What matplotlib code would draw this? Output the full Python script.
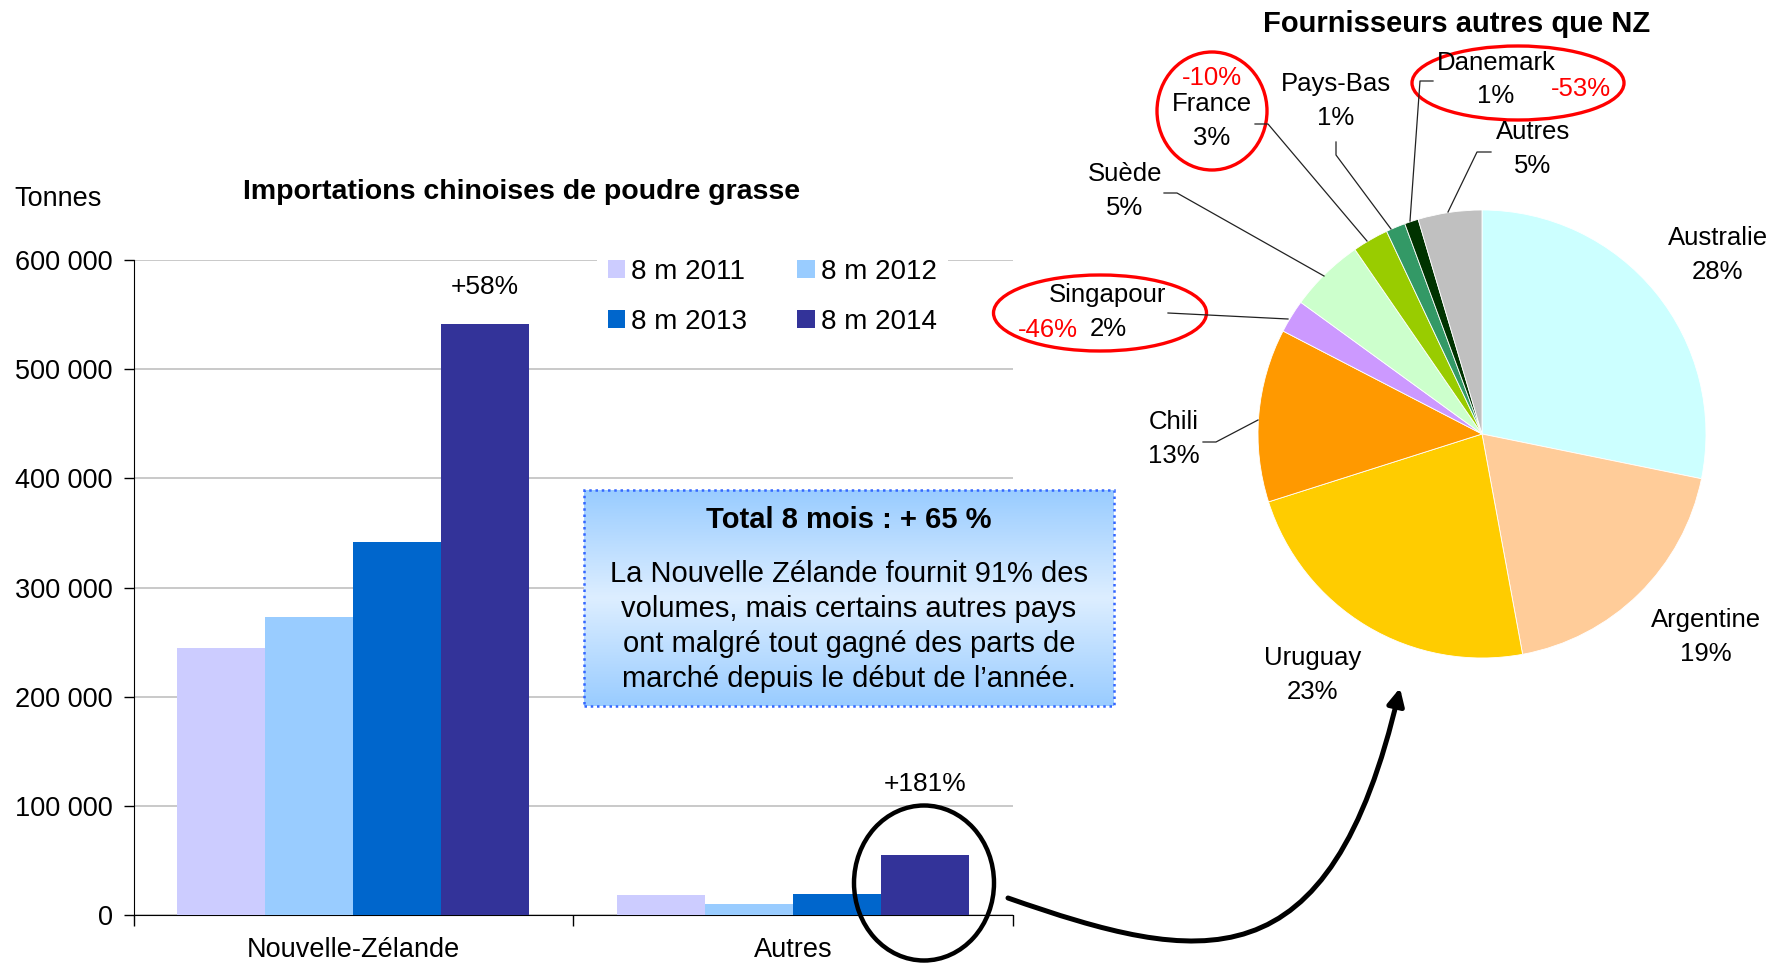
import matplotlib
matplotlib.use('Agg')
import matplotlib.pyplot as plt
import numpy as np
from matplotlib.patches import Ellipse, Rectangle, FancyArrowPatch
from matplotlib.path import Path
from matplotlib.lines import Line2D
from matplotlib.ticker import FuncFormatter
from matplotlib.colors import to_rgb

plt.rcParams['font.family'] = ['Liberation Sans', 'DejaVu Sans']

W, H = 1774, 966

# donnees barres
pays = ['Nouvelle-Zélande', 'Autres']
periodes = ['8 m 2011', '8 m 2012', '8 m 2013', '8 m 2014']
vol_2011 = [245000, 18500]
vol_2012 = [273000, 10000]
vol_2013 = [342000, 19500]
vol_2014 = [541000, 55000]
hausse = ['+58%', '+181%']
coul_barres = ['#ccccff', '#99ccff', '#0066cc', '#333399']

# donnees camembert (sens horaire depuis midi)
fournisseurs = ['Australie', 'Argentine', 'Uruguay', 'Chili', 'Singapour',
                'Suède', 'France', 'Pays-Bas', 'Danemark', 'Autres']
parts = [28.2, 18.9, 23.0, 12.5, 2.4, 5.4, 2.6, 1.4, 1.0, 4.6]
parts_txt = ['28%', '19%', '23%', '13%', '2%', '5%', '3%', '1%', '1%', '5%']
coul_pie = ['#ccffff', '#ffcc99', '#ffcc00', '#ff9900', '#cc99ff',
            '#ccffcc', '#99cc00', '#339966', '#003300', '#c0c0c0']
variations = {'Singapour': '-46%', 'France': '-10%', 'Danemark': '-53%'}


def fx(x):
    return x / W


def fy(y):
    return 1 - y / H


fig = plt.figure(figsize=(W / 100, H / 100), dpi=100)

#### barres
ax = fig.add_axes([fx(133.5), fy(915), (1013 - 133.5) / W, (915 - 260) / H])
x = np.arange(len(pays))
series = [vol_2011, vol_2012, vol_2013, vol_2014]
bars = []
for i, s in enumerate(series):
    b = ax.bar(x + (i - 1.5) * 0.2, s, width=0.2, color=coul_barres[i],
               label=periodes[i], zorder=3)
    bars.append(b)

ax.set_xlim(-0.5, 1.5)
ax.set_ylim(0, 600000)
ax.set_yticks(np.arange(0, 600001, 100000))
ax.yaxis.set_major_formatter(FuncFormatter(lambda v, p: f'{int(v):,}'.replace(',', ' ')))
ax.grid(axis='y', color='#c0c0c0', lw=1.2, zorder=0)
ax.set_xticks(x)
ax.set_xticklabels(pays)
ax.set_xticks([-0.5, 0.5, 1.5], minor=True)
ax.tick_params(axis='x', which='major', length=0, pad=16, labelsize=19.5)
ax.tick_params(axis='x', which='minor', length=8, width=1, direction='out')
ax.tick_params(axis='y', length=7, width=1, pad=8, labelsize=19.5)
for side in ['top', 'right']:
    ax.spines[side].set_visible(False)
ax.spines['left'].set_color('black')
ax.spines['bottom'].set_color('black')

# variations
ax.annotate(hausse[0], (x[0] + 0.3, vol_2014[0]), xytext=(0, 27),
            textcoords='offset points', ha='center', va='center', fontsize=19)
ax.annotate(hausse[1], (x[1] + 0.3, vol_2014[1]), xytext=(0, 51),
            textcoords='offset points', ha='center', va='center', fontsize=19)

# legende en lignes : 2011 2012 / 2013 2014
ordre = [0, 2, 1, 3]
leg = ax.legend([bars[i] for i in ordre], [periodes[i] for i in ordre],
                ncol=2, loc='upper left', bbox_to_anchor=(fx(597), fy(248)),
                bbox_transform=fig.transFigure, fontsize=20, frameon=True,
                facecolor='white', edgecolor='none', framealpha=1,
                handlelength=0.62, handleheight=0.62, handletextpad=0.22,
                columnspacing=1.8, labelspacing=0.85, borderpad=0.4,
                borderaxespad=0, fancybox=False)

fig.text(fx(14), fy(199), 'Tonnes', fontsize=19.5, va='center', ha='left')
fig.text(fx(522), fy(192), 'Importations chinoises de poudre grasse',
         fontsize=20.5, fontweight='bold', ha='center', va='center')

#### encadre
bx0, bx1, by0, by1 = 584, 1114, 490, 706
axb = fig.add_axes([fx(bx0), fy(by1), (bx1 - bx0) / W, (by1 - by0) / H])
c_fonce = np.array(to_rgb('#99ccff'))
c_clair = np.array(to_rgb('#ddeeff'))
t = np.linspace(0, 1, 200)
w = 1 - np.abs(t - 0.5) * 2
grad = c_fonce[None, :] * (1 - w[:, None]) + c_clair[None, :] * w[:, None]
axb.imshow(grad[:, None, :], aspect='auto', extent=(0, 1, 1, 0))
axb.set_xlim(0, 1)
axb.set_ylim(1, 0)
axb.axis('off')
axb.add_patch(Rectangle((0, 0), 1, 1, fill=False, ec='#3366ff', lw=1.8,
                        ls=(0, (1, 1.5)), transform=axb.transAxes, clip_on=False))
cx = (bx0 + bx1) / 2
fig.text(fx(cx), fy(520), 'Total 8 mois : + 65 %', fontsize=21,
         fontweight='bold', ha='center', va='center')
lignes = ['La Nouvelle Zélande fournit 91% des',
          'volumes, mais certains autres pays',
          'ont malgré tout gagné des parts de',
          'marché depuis le début de l\u2019année.']
for k, l in enumerate(lignes):
    fig.text(fx(cx), fy(574 + 35 * k), l, fontsize=21, ha='center', va='center')

#### camembert
pcx, pcy, r = 1482, 434, 224
ax2 = fig.add_axes([fx(pcx - r), fy(pcy + r), 2 * r / W, 2 * r / H])
ax2.pie(parts, colors=coul_pie, startangle=90, counterclock=False, radius=1,
        wedgeprops=dict(linewidth=0.6, edgecolor='white'))
ax2.set_xlim(-1, 1)
ax2.set_ylim(-1, 1)

fig.text(fx(1457), fy(24), 'Fournisseurs autres que NZ', fontsize=21,
         fontweight='bold', ha='center', va='center')

pos_lab = {
    'Australie': (1718, 238), 'Argentine': (1706, 620), 'Uruguay': (1313, 658),
    'Chili': (1174, 422), 'Singapour': (1108, 295), 'Suède': (1125, 174),
    'France': (1212, 104), 'Pays-Bas': (1336, 84), 'Danemark': (1496, 63),
    'Autres': (1533, 132),
}
fs_pie = 18.5
for nom, txt in zip(fournisseurs, parts_txt):
    lx, ly = pos_lab[nom]
    fig.text(fx(lx), fy(ly), nom, fontsize=fs_pie, ha='center', va='center')
    dy = 34 if nom != 'Danemark' else 33
    fig.text(fx(lx), fy(ly + dy), txt, fontsize=fs_pie, ha='center', va='center')

pos_var = {'Singapour': (1048, 330), 'France': (1212, 78), 'Danemark': (1581, 89)}
for nom, v in variations.items():
    vx, vy = pos_var[nom]
    fig.text(fx(vx), fy(vy), v, fontsize=fs_pie, color='#ff0000',
             ha='center', va='center')

# traits de rappel
rappels = [
    [(1203, 442), (1216, 442), (1258, 420)],
    [(1168, 313), (1288, 319)],
    [(1164, 193), (1177, 193), (1324, 276)],
    [(1255, 124), (1268, 124), (1367, 241)],
    [(1336, 142), (1336, 155), (1391, 229)],
    [(1433, 81), (1420, 81), (1410, 221)],
    [(1491, 152), (1477, 152), (1448, 212)],
]
for pts in rappels:
    xs = [fx(p[0]) for p in pts]
    ys = [fy(p[1]) for p in pts]
    fig.add_artist(Line2D(xs, ys, color='#222222', lw=0.9, transform=fig.transFigure))

# ellipses rouges
for (ex, ey, ew, eh) in [(1212, 111, 110, 118), (1100, 313, 213, 76), (1518, 83, 212, 74)]:
    fig.add_artist(Ellipse((fx(ex), fy(ey)), ew / W, eh / H, fill=False,
                           ec='#ff0000', lw=2.4, transform=fig.transFigure))

# cercle noir + fleche
fig.add_artist(Ellipse((fx(924), fy(883)), 140 / W, 155 / H, fill=False,
                       ec='black', lw=3.2, transform=fig.transFigure))

verts = [(fx(1008), fy(898)), (fx(1200), fy(965)), (fx(1330), fy(990)), (fx(1400), fy(688))]
chemin = Path(verts, [Path.MOVETO, Path.CURVE4, Path.CURVE4, Path.CURVE4])
fleche = FancyArrowPatch(path=chemin, arrowstyle='-|>,head_length=10,head_width=5',
                         color='black', lw=3.6, transform=fig.transFigure)
fig.add_artist(fleche)

fig.savefig('out.png', dpi=100)
